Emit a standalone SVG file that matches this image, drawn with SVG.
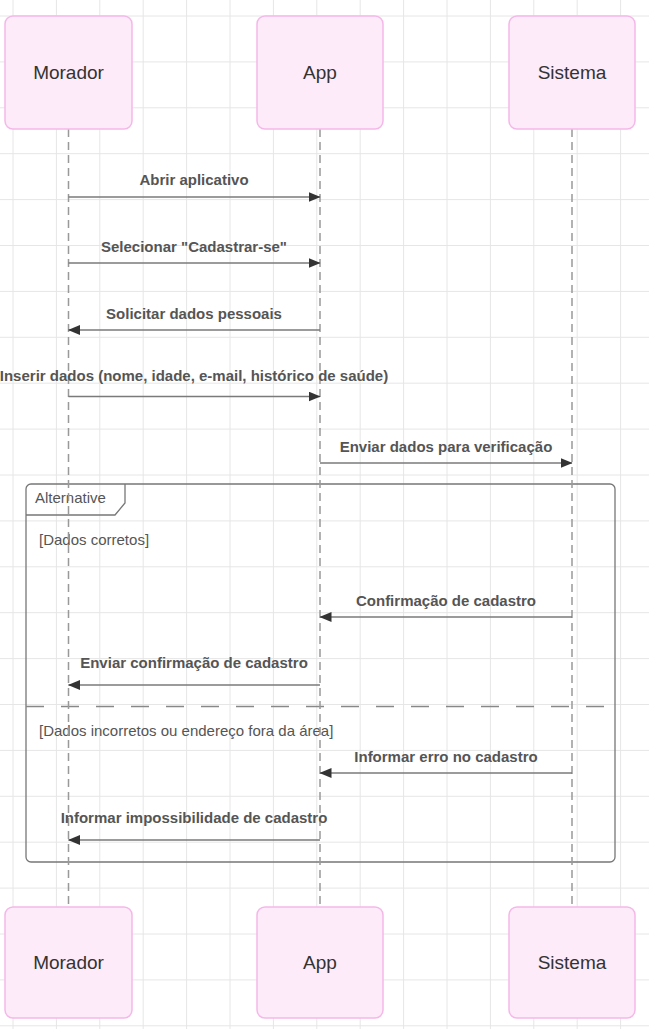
<svg xmlns="http://www.w3.org/2000/svg" width="649" height="1029" viewBox="0 0 649 1029">
<defs>
<style>
.grid line{stroke:#e6e6e6;stroke-width:1}
.actor rect{fill:#fdebf9;stroke:#f4b8e8;stroke-width:1.5}
.actor text{font-family:"Liberation Sans",Arial,sans-serif;font-size:19px;fill:#333;text-anchor:middle}
.life{stroke:#999;stroke-width:1.5;stroke-dasharray:8 5;fill:none}
.msg{stroke:#7a7a7a;stroke-width:1.6;fill:none;marker-end:url(#ah)}
.mt{font-family:"Liberation Sans",Arial,sans-serif;font-size:15px;font-weight:bold;fill:#555;text-anchor:middle}
.frame{stroke:#777;stroke-width:1.3;fill:none}
.ft{font-family:"Liberation Sans",Arial,sans-serif;font-size:15px;fill:#555}
</style>
<marker id="ah" viewBox="0 0 12 10" refX="11.5" refY="5" markerWidth="12" markerHeight="10" markerUnits="userSpaceOnUse" orient="auto">
<path d="M0,0 L12,5 L0,10 z" fill="#333"/>
</marker>
</defs>
<rect x="0" y="0" width="649" height="1029" fill="#fff"/>
<g class="grid">
<line x1="13" y1="0" x2="13" y2="1029"/><line x1="56.4" y1="0" x2="56.4" y2="1029"/><line x1="99.8" y1="0" x2="99.8" y2="1029"/><line x1="143.2" y1="0" x2="143.2" y2="1029"/><line x1="186.6" y1="0" x2="186.6" y2="1029"/><line x1="230" y1="0" x2="230" y2="1029"/><line x1="273.4" y1="0" x2="273.4" y2="1029"/><line x1="316.8" y1="0" x2="316.8" y2="1029"/><line x1="360.2" y1="0" x2="360.2" y2="1029"/><line x1="403.6" y1="0" x2="403.6" y2="1029"/><line x1="447" y1="0" x2="447" y2="1029"/><line x1="490.4" y1="0" x2="490.4" y2="1029"/><line x1="533.8" y1="0" x2="533.8" y2="1029"/><line x1="577.2" y1="0" x2="577.2" y2="1029"/><line x1="620.6" y1="0" x2="620.6" y2="1029"/>
<line x1="0" y1="16" x2="649" y2="16"/><line x1="0" y1="61.9" x2="649" y2="61.9"/><line x1="0" y1="107.8" x2="649" y2="107.8"/><line x1="0" y1="153.7" x2="649" y2="153.7"/><line x1="0" y1="199.6" x2="649" y2="199.6"/><line x1="0" y1="245.5" x2="649" y2="245.5"/><line x1="0" y1="291.4" x2="649" y2="291.4"/><line x1="0" y1="337.3" x2="649" y2="337.3"/><line x1="0" y1="383.2" x2="649" y2="383.2"/><line x1="0" y1="429.1" x2="649" y2="429.1"/><line x1="0" y1="475" x2="649" y2="475"/><line x1="0" y1="520.9" x2="649" y2="520.9"/><line x1="0" y1="566.8" x2="649" y2="566.8"/><line x1="0" y1="612.7" x2="649" y2="612.7"/><line x1="0" y1="658.6" x2="649" y2="658.6"/><line x1="0" y1="704.5" x2="649" y2="704.5"/><line x1="0" y1="750.4" x2="649" y2="750.4"/><line x1="0" y1="796.3" x2="649" y2="796.3"/><line x1="0" y1="842.2" x2="649" y2="842.2"/><line x1="0" y1="888.1" x2="649" y2="888.1"/><line x1="0" y1="934" x2="649" y2="934"/><line x1="0" y1="979.9" x2="649" y2="979.9"/><line x1="0" y1="1025.8" x2="649" y2="1025.8"/>
</g>
<g id="alt-frame">
<rect class="frame" x="26" y="484" width="589" height="378" rx="5"/>
<path class="frame" d="M26,515 L115,515 L125,503 L125,484"/>
<text class="ft" x="35" y="503" font-size="14">Alternative</text>
<text class="ft" x="39" y="545">[Dados corretos]</text>
<line x1="26" y1="706.5" x2="615" y2="706.5" stroke="#888" stroke-width="1.5" stroke-dasharray="18 17"/>
<text class="ft" x="39" y="736">[Dados incorretos ou endereço fora da área]</text>
</g>
<g id="lifelines">
<line class="life" x1="68.5" y1="129" x2="68.5" y2="907"/>
<line class="life" x1="320" y1="129" x2="320" y2="907"/>
<line class="life" x1="572" y1="129" x2="572" y2="907"/>
</g>
<g id="connectors">
<line class="msg" x1="68.5" y1="197" x2="320" y2="197"/>
<text class="mt" x="194" y="185">Abrir aplicativo</text>
<line class="msg" x1="68.5" y1="263" x2="320" y2="263"/>
<text class="mt" x="194" y="252">Selecionar "Cadastrar-se"</text>
<line class="msg" x1="320" y1="330" x2="68.5" y2="330"/>
<text class="mt" x="194" y="319">Solicitar dados pessoais</text>
<line class="msg" x1="68.5" y1="396.5" x2="320" y2="396.5"/>
<text class="mt" x="194" y="381">Inserir dados (nome, idade, e-mail, histórico de saúde)</text>
<line class="msg" x1="320" y1="463" x2="572" y2="463"/>
<text class="mt" x="446" y="452">Enviar dados para verificação</text>
<line class="msg" x1="572" y1="617" x2="320" y2="617"/>
<text class="mt" x="446" y="606">Confirmação de cadastro</text>
<line class="msg" x1="320" y1="685" x2="68.5" y2="685"/>
<text class="mt" x="194" y="668">Enviar confirmação de cadastro</text>
<line class="msg" x1="572" y1="773" x2="320" y2="773"/>
<text class="mt" x="446" y="762">Informar erro no cadastro</text>
<line class="msg" x1="320" y1="840" x2="68.5" y2="840"/>
<text class="mt" x="194" y="823">Informar impossibilidade de cadastro</text>
</g>
<g id="actor-morador-top" class="actor"><rect x="5" y="16" width="127" height="113" rx="8"/><text x="68.5" y="79">Morador</text></g>
<g id="actor-app-top" class="actor"><rect x="257" y="16" width="126" height="113" rx="8"/><text x="320" y="79">App</text></g>
<g id="actor-sistema-top" class="actor"><rect x="509" y="16" width="126" height="113" rx="8"/><text x="572" y="79">Sistema</text></g>
<g id="actor-morador-bottom" class="actor"><rect x="5" y="907" width="127" height="111" rx="8"/><text x="68.5" y="969">Morador</text></g>
<g id="actor-app-bottom" class="actor"><rect x="257" y="907" width="126" height="111" rx="8"/><text x="320" y="969">App</text></g>
<g id="actor-sistema-bottom" class="actor"><rect x="509" y="907" width="126" height="111" rx="8"/><text x="572" y="969">Sistema</text></g>
</svg>
